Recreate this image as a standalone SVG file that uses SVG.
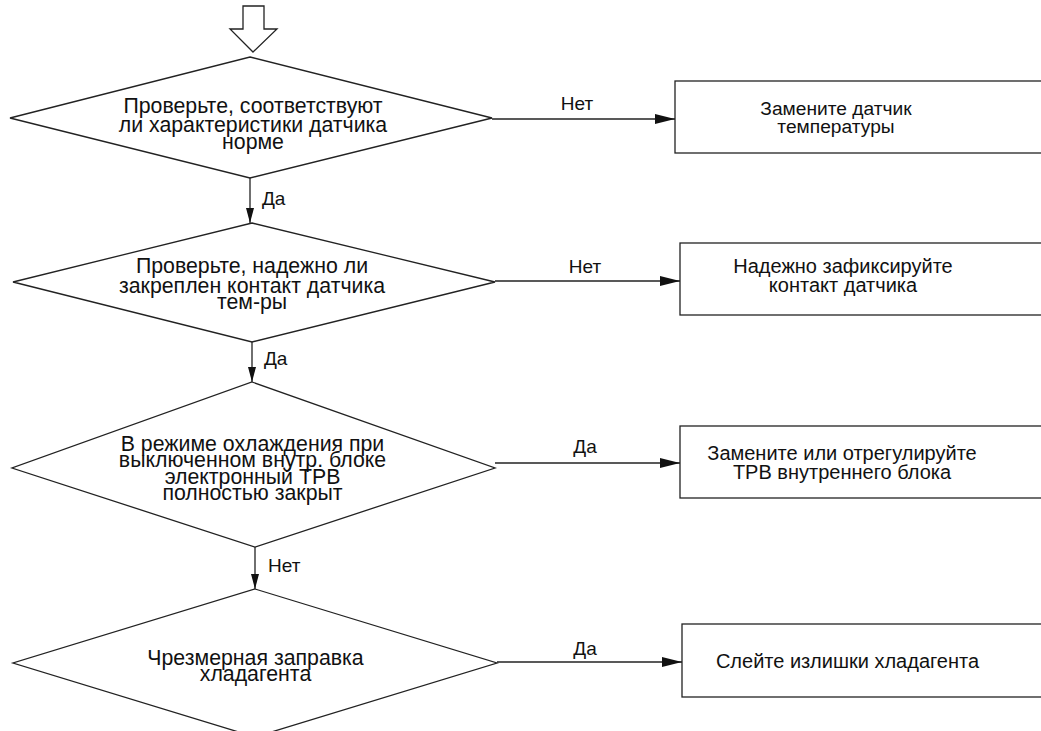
<svg xmlns="http://www.w3.org/2000/svg" width="1041" height="731" viewBox="0 0 1041 731">
<style>
.shape{fill:#fff;stroke:#222;stroke-width:1.3}
.line{fill:none;stroke:#222;stroke-width:1.3}
.t{font-family:"Liberation Sans",Arial,sans-serif;font-size:21.3px;fill:#111;text-anchor:middle}
.tb{font-family:"Liberation Sans",Arial,sans-serif;font-size:20px;fill:#111;text-anchor:middle}
.lbl{font-family:"Liberation Sans",Arial,sans-serif;font-size:19px;fill:#111}
</style>
<defs>
<marker id="ah" markerWidth="20" markerHeight="10" refX="20" refY="5" orient="auto" markerUnits="userSpaceOnUse">
<path d="M0,0 L20,5 L0,10 Z" fill="#111"/>
</marker>
<marker id="av" markerWidth="15" markerHeight="8" refX="15" refY="4" orient="auto" markerUnits="userSpaceOnUse">
<path d="M0,0 L15,4 L0,8 Z" fill="#111"/>
</marker>
</defs>
<g id="start">
<polygon class="shape" points="243,6 264,6 264,29 277,29 253,52 230,29 243,29"/>
</g>
<g id="d1">
<polygon class="shape" points="250,57 492,118 250,178 10,118"/>
<text class="t" x="253" y="113">Проверьте, соответствуют</text>
<text class="t" x="253" y="132">ли характеристики датчика</text>
<text class="t" x="253" y="148.5">норме</text>
</g>
<g id="b1">
<rect class="shape" x="675" y="81" width="380" height="72"/>
<text class="tb" x="836" y="115" style="font-size:19.2px">Замените датчик</text>
<text class="tb" x="836" y="133" style="font-size:19.2px">температуры</text>
</g>
<g id="d2">
<polygon class="shape" points="252,223 495,282 252,342 13,282"/>
<text class="t" x="252" y="273">Проверьте, надежно ли</text>
<text class="t" x="252" y="293">закреплен контакт датчика</text>
<text class="t" x="252" y="308.5">тем-ры</text>
</g>
<g id="b2">
<rect class="shape" x="680" y="243" width="380" height="72"/>
<text class="tb" x="843" y="273">Надежно зафиксируйте</text>
<text class="tb" x="843" y="292">контакт датчика</text>
</g>
<g id="d3">
<polygon class="shape" points="252,382 495,468 255,547 12,468"/>
<text class="t" x="252.5" y="451">В режиме охлаждения при</text>
<text class="t" x="252.5" y="467">выключенном внутр. блоке</text>
<text class="t" x="252.5" y="483.5">электронный ТРВ</text>
<text class="t" x="252.5" y="500">полностью закрыт</text>
</g>
<g id="b3">
<rect class="shape" x="680" y="426" width="380" height="72"/>
<text class="tb" x="842" y="460">Замените или отрегулируйте</text>
<text class="tb" x="842" y="479">ТРВ внутреннего блока</text>
</g>
<g id="d4">
<polygon class="shape" points="255,589 497,663 255,737 13,663"/>
<text class="t" x="255.5" y="664.5">Чрезмерная заправка</text>
<text class="t" x="255.5" y="681">хладагента</text>
</g>
<g id="b4">
<rect class="shape" x="682" y="624" width="380" height="73"/>
<text class="tb" x="847.5" y="668">Слейте излишки хладагента</text>
</g>
<g id="connectors">
<line class="line" x1="492" y1="119" x2="675" y2="119" marker-end="url(#ah)"/>
<text class="lbl" x="577" y="110" text-anchor="middle">Нет</text>
<line class="line" x1="495" y1="281" x2="680" y2="281" marker-end="url(#ah)"/>
<text class="lbl" x="585" y="273" text-anchor="middle">Нет</text>
<line class="line" x1="495" y1="463" x2="680" y2="463" marker-end="url(#ah)"/>
<text class="lbl" x="585" y="453" text-anchor="middle">Да</text>
<line class="line" x1="497" y1="662" x2="682" y2="662" marker-end="url(#ah)"/>
<text class="lbl" x="585" y="655" text-anchor="middle">Да</text>
<line class="line" x1="250" y1="178" x2="250" y2="223" marker-end="url(#av)"/>
<text class="lbl" x="262" y="205">Да</text>
<line class="line" x1="252" y1="342" x2="252" y2="382" marker-end="url(#av)"/>
<text class="lbl" x="264" y="365">Да</text>
<line class="line" x1="255" y1="547" x2="255" y2="589" marker-end="url(#av)"/>
<text class="lbl" x="268" y="572">Нет</text>
</g>
</svg>
